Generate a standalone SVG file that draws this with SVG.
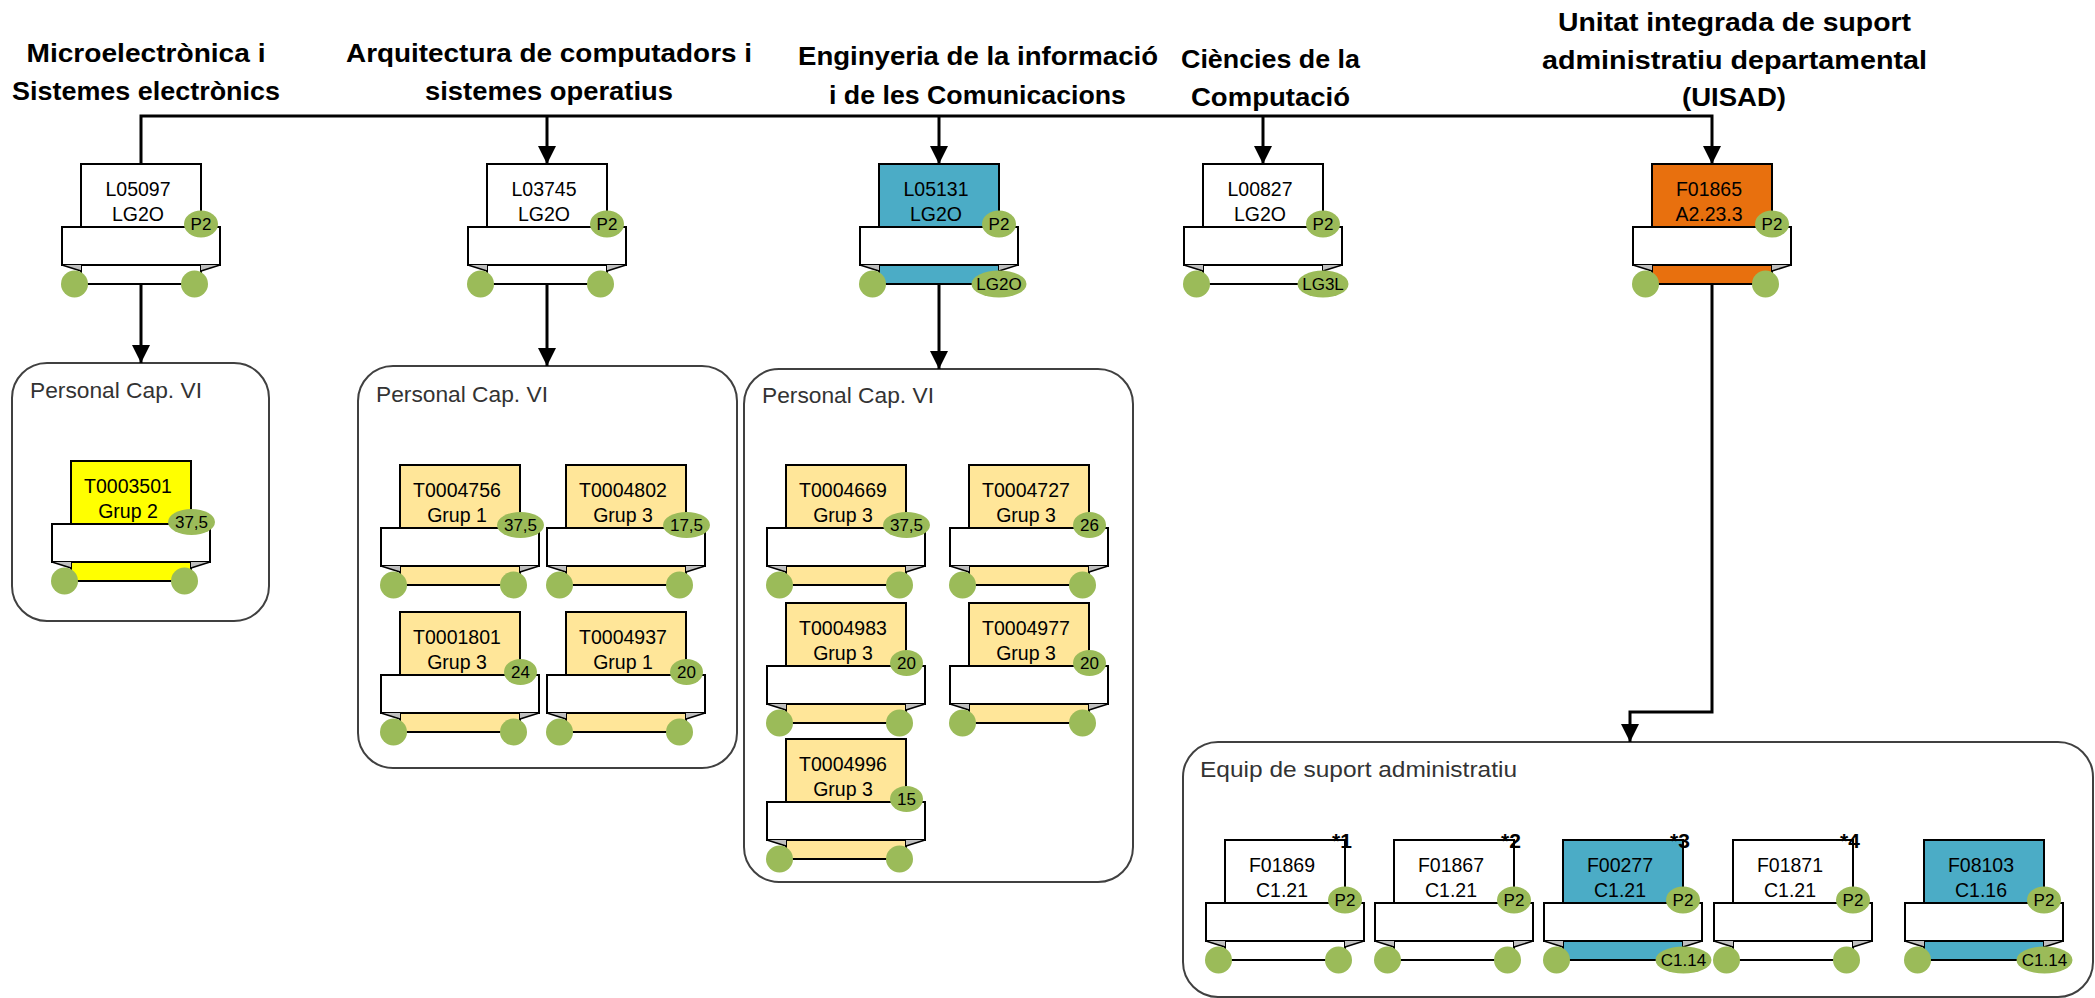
<svg xmlns="http://www.w3.org/2000/svg" xmlns:xlink="http://www.w3.org/1999/xlink" width="2095" height="998" viewBox="0 0 2095 998">
<style>
text{font-family:"Liberation Sans",Arial,sans-serif;fill:#000}
.t{font-weight:bold;font-size:26px;text-anchor:middle}
.lb{font-size:19.5px;text-anchor:middle}
.bd{font-size:17px;text-anchor:middle}
.ct{font-size:22px;fill:#333}
.ast{font-size:21px;font-weight:bold}
.box{stroke:#000;stroke-width:2}
.w{fill:#fff}.ty{fill:#FFFF00}.ly{fill:#FFE699}.tl{fill:#4BACC6}.or{fill:#E8700E}
.band{fill:#fff;stroke:#000;stroke-width:2}
.tri{fill:#BFBFBF}
.dg{fill:none;stroke:#000;stroke-width:1.5}
.g{fill:#9BBB59}
.cont{fill:none;stroke:#404040;stroke-width:2}
.con{fill:none;stroke:#000;stroke-width:3}
</style>
<defs>
<marker id="arr" viewBox="0 0 18 18" refX="18" refY="9" markerWidth="18" markerHeight="18" orient="auto" markerUnits="userSpaceOnUse"><path d="M0,0 L18,9 L0,18 Z" fill="#000"/></marker>
<g id="rib">
<rect class="band" x="-19" y="63" width="158" height="38"/>
<polygon class="tri" points="-19,101 0,101 0,107"/>
<polygon class="tri" points="139,101 120,101 120,107"/>
<path class="dg" d="M-19,101 L0,107 M139,101 L120,107"/>
<circle class="g" cx="-6.5" cy="120" r="13.5"/>
</g>
<circle id="rc" class="g" cx="113.5" cy="120" r="13.5"/>
<g id="p2"><ellipse class="g" cx="120" cy="60" rx="17" ry="13.5"/><text class="bd" x="120" y="66">P2</text></g>
</defs>

<g id="titles">
<text class="t" x="146" y="62" textLength="239" lengthAdjust="spacingAndGlyphs">Microelectrònica i</text>
<text class="t" x="146" y="100" textLength="268" lengthAdjust="spacingAndGlyphs">Sistemes electrònics</text>
<text class="t" x="549" y="62" textLength="406" lengthAdjust="spacingAndGlyphs">Arquitectura de computadors i</text>
<text class="t" x="549" y="100" textLength="248" lengthAdjust="spacingAndGlyphs">sistemes operatius</text>
<text class="t" x="978" y="65" textLength="360" lengthAdjust="spacingAndGlyphs">Enginyeria de la informació</text>
<text class="t" x="977.5" y="104" textLength="297" lengthAdjust="spacingAndGlyphs">i de les Comunicacions</text>
<text class="t" x="1270.5" y="68" textLength="179" lengthAdjust="spacingAndGlyphs">Ciències de la</text>
<text class="t" x="1270.5" y="106" textLength="159" lengthAdjust="spacingAndGlyphs">Computació</text>
<text class="t" x="1734.5" y="31" textLength="353" lengthAdjust="spacingAndGlyphs">Unitat integrada de suport</text>
<text class="t" x="1734.5" y="69" textLength="385" lengthAdjust="spacingAndGlyphs">administratiu departamental</text>
<text class="t" x="1734" y="106" textLength="104" lengthAdjust="spacingAndGlyphs">(UISAD)</text>
</g>

<g id="containers">
<g id="cont1"><rect class="cont" x="12" y="363" width="257" height="258" rx="35"/><text class="ct" x="30" y="398" textLength="172" lengthAdjust="spacingAndGlyphs">Personal Cap. VI</text></g>
<g id="cont2"><rect class="cont" x="358" y="366" width="379" height="402" rx="35"/><text class="ct" x="376" y="402" textLength="172" lengthAdjust="spacingAndGlyphs">Personal Cap. VI</text></g>
<g id="cont3"><rect class="cont" x="744" y="369" width="389" height="513" rx="35"/><text class="ct" x="762" y="403" textLength="172" lengthAdjust="spacingAndGlyphs">Personal Cap. VI</text></g>
<g id="cont4"><rect class="cont" x="1183" y="742" width="910" height="255" rx="35"/><text class="ct" x="1200" y="777" textLength="317" lengthAdjust="spacingAndGlyphs">Equip de suport administratiu</text></g>
</g>

<g id="connectors">
<path class="con" d="M141,164 V116 H1712 V164" marker-end="url(#arr)"/>
<path class="con" d="M547,116 V164" marker-end="url(#arr)"/>
<path class="con" d="M939,116 V164" marker-end="url(#arr)"/>
<path class="con" d="M1263,116 V164" marker-end="url(#arr)"/>
<path class="con" d="M141,284 V363" marker-end="url(#arr)"/>
<path class="con" d="M547,284 V366" marker-end="url(#arr)"/>
<path class="con" d="M939,284 V369" marker-end="url(#arr)"/>
<path class="con" d="M1712,284 V712 H1630 V742" marker-end="url(#arr)"/>
</g>

<!-- top row -->
<g id="L05097" transform="translate(81,164)">
<rect class="box w" x="0" y="0" width="120" height="120"/><use href="#rib"/><use href="#rc"/><use href="#p2"/>
<text class="lb" x="57" y="32">L05097</text><text class="lb" x="57" y="57">LG2O</text>
</g>
<g id="L03745" transform="translate(487,164)">
<rect class="box w" x="0" y="0" width="120" height="120"/><use href="#rib"/><use href="#rc"/><use href="#p2"/>
<text class="lb" x="57" y="32">L03745</text><text class="lb" x="57" y="57">LG2O</text>
</g>
<g id="L05131" transform="translate(879,164)">
<rect class="box tl" x="0" y="0" width="120" height="120"/><use href="#rib"/><use href="#p2"/>
<ellipse class="g" cx="120" cy="120" rx="27.5" ry="13.5"/><text class="bd" x="120" y="126">LG2O</text>
<text class="lb" x="57" y="32">L05131</text><text class="lb" x="57" y="57">LG2O</text>
</g>
<g id="L00827" transform="translate(1203,164)">
<rect class="box w" x="0" y="0" width="120" height="120"/><use href="#rib"/><use href="#p2"/>
<ellipse class="g" cx="120" cy="120" rx="25.5" ry="13.5"/><text class="bd" x="120" y="126">LG3L</text>
<text class="lb" x="57" y="32">L00827</text><text class="lb" x="57" y="57">LG2O</text>
</g>
<g id="F01865" transform="translate(1652,164)">
<rect class="box or" x="0" y="0" width="120" height="120"/><use href="#rib"/><use href="#rc"/><use href="#p2"/>
<text class="lb" x="57" y="32">F01865</text><text class="lb" x="57" y="57">A2.23.3</text>
</g>

<!-- container 1 -->
<g id="T0003501" transform="translate(71,461)">
<rect class="box ty" x="0" y="0" width="120" height="120"/><use href="#rib"/><use href="#rc"/>
<ellipse class="g" cx="120.5" cy="61" rx="23.5" ry="13"/><text class="bd" x="120.5" y="67">37,5</text>
<text class="lb" x="57" y="32">T0003501</text><text class="lb" x="57" y="57">Grup 2</text>
</g>

<!-- container 2 -->
<g id="T0004756" transform="translate(400,465)">
<rect class="box ly" x="0" y="0" width="120" height="120"/><use href="#rib"/><use href="#rc"/>
<ellipse class="g" cx="120.5" cy="60" rx="23.5" ry="13"/><text class="bd" x="120.5" y="66">37,5</text>
<text class="lb" x="57" y="32">T0004756</text><text class="lb" x="57" y="57">Grup 1</text>
</g>
<g id="T0004802" transform="translate(566,465)">
<rect class="box ly" x="0" y="0" width="120" height="120"/><use href="#rib"/><use href="#rc"/>
<ellipse class="g" cx="120.5" cy="60" rx="23.5" ry="13"/><text class="bd" x="120.5" y="66">17,5</text>
<text class="lb" x="57" y="32">T0004802</text><text class="lb" x="57" y="57">Grup 3</text>
</g>
<g id="T0001801" transform="translate(400,612)">
<rect class="box ly" x="0" y="0" width="120" height="120"/><use href="#rib"/><use href="#rc"/>
<ellipse class="g" cx="120.5" cy="60" rx="16.5" ry="13"/><text class="bd" x="120.5" y="66">24</text>
<text class="lb" x="57" y="32">T0001801</text><text class="lb" x="57" y="57">Grup 3</text>
</g>
<g id="T0004937" transform="translate(566,612)">
<rect class="box ly" x="0" y="0" width="120" height="120"/><use href="#rib"/><use href="#rc"/>
<ellipse class="g" cx="120.5" cy="60" rx="16.5" ry="13"/><text class="bd" x="120.5" y="66">20</text>
<text class="lb" x="57" y="32">T0004937</text><text class="lb" x="57" y="57">Grup 1</text>
</g>

<!-- container 3 -->
<g id="T0004669" transform="translate(786,465)">
<rect class="box ly" x="0" y="0" width="120" height="120"/><use href="#rib"/><use href="#rc"/>
<ellipse class="g" cx="120.5" cy="60" rx="23.5" ry="13"/><text class="bd" x="120.5" y="66">37,5</text>
<text class="lb" x="57" y="32">T0004669</text><text class="lb" x="57" y="57">Grup 3</text>
</g>
<g id="T0004727" transform="translate(969,465)">
<rect class="box ly" x="0" y="0" width="120" height="120"/><use href="#rib"/><use href="#rc"/>
<ellipse class="g" cx="120.5" cy="60" rx="16.5" ry="13"/><text class="bd" x="120.5" y="66">26</text>
<text class="lb" x="57" y="32">T0004727</text><text class="lb" x="57" y="57">Grup 3</text>
</g>
<g id="T0004983" transform="translate(786,603)">
<rect class="box ly" x="0" y="0" width="120" height="120"/><use href="#rib"/><use href="#rc"/>
<ellipse class="g" cx="120.5" cy="60" rx="16.5" ry="13"/><text class="bd" x="120.5" y="66">20</text>
<text class="lb" x="57" y="32">T0004983</text><text class="lb" x="57" y="57">Grup 3</text>
</g>
<g id="T0004977" transform="translate(969,603)">
<rect class="box ly" x="0" y="0" width="120" height="120"/><use href="#rib"/><use href="#rc"/>
<ellipse class="g" cx="120.5" cy="60" rx="16.5" ry="13"/><text class="bd" x="120.5" y="66">20</text>
<text class="lb" x="57" y="32">T0004977</text><text class="lb" x="57" y="57">Grup 3</text>
</g>
<g id="T0004996" transform="translate(786,739)">
<rect class="box ly" x="0" y="0" width="120" height="120"/><use href="#rib"/><use href="#rc"/>
<ellipse class="g" cx="120.5" cy="60" rx="16.5" ry="13"/><text class="bd" x="120.5" y="66">15</text>
<text class="lb" x="57" y="32">T0004996</text><text class="lb" x="57" y="57">Grup 3</text>
</g>

<!-- container 4 -->
<g id="F01869" transform="translate(1225,840)">
<rect class="box w" x="0" y="0" width="120" height="120"/><use href="#rib"/><use href="#rc"/><use href="#p2"/>
<text class="lb" x="57" y="32">F01869</text><text class="lb" x="57" y="57">C1.21</text>
<text class="ast" x="107" y="8">*1</text>
</g>
<g id="F01867" transform="translate(1394,840)">
<rect class="box w" x="0" y="0" width="120" height="120"/><use href="#rib"/><use href="#rc"/><use href="#p2"/>
<text class="lb" x="57" y="32">F01867</text><text class="lb" x="57" y="57">C1.21</text>
<text class="ast" x="107" y="8">*2</text>
</g>
<g id="F00277" transform="translate(1563,840)">
<rect class="box tl" x="0" y="0" width="120" height="120"/><use href="#rib"/><use href="#p2"/>
<ellipse class="g" cx="120.5" cy="120" rx="28" ry="13.5"/><text class="bd" x="120.5" y="126">C1.14</text>
<text class="lb" x="57" y="32">F00277</text><text class="lb" x="57" y="57">C1.21</text>
<text class="ast" x="107" y="8">*3</text>
</g>
<g id="F01871" transform="translate(1733,840)">
<rect class="box w" x="0" y="0" width="120" height="120"/><use href="#rib"/><use href="#rc"/><use href="#p2"/>
<text class="lb" x="57" y="32">F01871</text><text class="lb" x="57" y="57">C1.21</text>
<text class="ast" x="107" y="8">*4</text>
</g>
<g id="F08103" transform="translate(1924,840)">
<rect class="box tl" x="0" y="0" width="120" height="120"/><use href="#rib"/><use href="#p2"/>
<ellipse class="g" cx="120.5" cy="120" rx="28" ry="13.5"/><text class="bd" x="120.5" y="126">C1.14</text>
<text class="lb" x="57" y="32">F08103</text><text class="lb" x="57" y="57">C1.16</text>
</g>
</svg>
